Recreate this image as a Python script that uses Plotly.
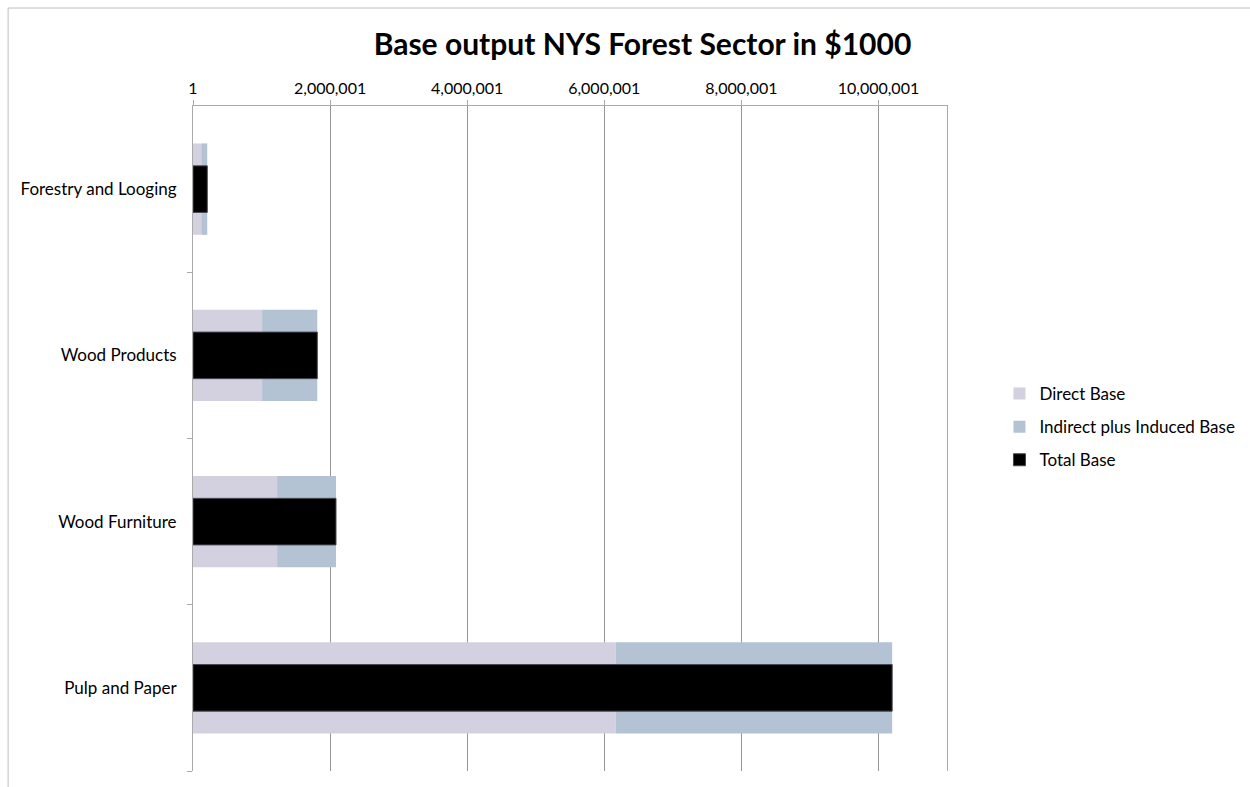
import plotly.graph_objects as go

# Forest sector output, thousands of dollars
sectors = ["Forestry and Looging", "Wood Products", "Wood Furniture", "Pulp and Paper"]
direct_base = [121000, 1008000, 1227000, 6165000]
indirect_induced_base = [87000, 805000, 859000, 4035000]
total_base = [d + i for d, i in zip(direct_base, indirect_induced_base)]

x_tick_vals = [1, 2000001, 4000001, 6000001, 8000001, 10000001]
x_tick_text = ["1", "2,000,001", "4,000,001", "6,000,001", "8,000,001", "10,000,001"]

FONT = "Lato, Liberation Sans, sans-serif"
DIRECT_COLOR = "rgb(211,209,224)"
INDIRECT_COLOR = "rgb(179,195,211)"

fig = go.Figure()

fig.add_trace(go.Bar(
    name="Direct Base", y=sectors, x=direct_base, orientation="h",
    width=0.55, marker=dict(color=DIRECT_COLOR, line=dict(width=0)),
    legendgroup="a",
))
fig.add_trace(go.Bar(
    name="Indirect plus Induced Base", y=sectors, x=indirect_induced_base,
    base=direct_base, orientation="h",
    width=0.55, marker=dict(color=INDIRECT_COLOR, line=dict(width=0)),
    legendgroup="b",
))
fig.add_trace(go.Bar(
    name="Total Base", y=sectors, x=total_base, orientation="h",
    width=0.28, marker=dict(color="black", line=dict(color="rgb(70,70,80)", width=1)),
    legendgroup="c",
))

# invisible companion axis used only for the category boundary tick marks
fig.add_trace(go.Scatter(x=[None], y=[None], yaxis="y2", showlegend=False, hoverinfo="skip"))

fig.update_layout(
    width=1250, height=787,
    barmode="overlay",
    plot_bgcolor="white", paper_bgcolor="white",
    margin=dict(l=193, r=303, t=106, b=16, autoexpand=False),
    font=dict(family=FONT, size=14, color="black"),
    title=dict(
        text="<b>Base output NYS Forest Sector in $1000</b>",
        font=dict(family=FONT, size=30, color="black"),
        x=0.514, xref="container", xanchor="center",
        y=1 - 44 / 787, yref="container", yanchor="middle",
    ),
    xaxis=dict(
        side="top", range=[1, 11000001],
        tickvals=x_tick_vals, ticktext=x_tick_text,
        tickfont=dict(size=16, family=FONT),
        showgrid=True, gridcolor="rgb(150,150,150)", gridwidth=1,
        showline=True, linecolor="rgb(170,170,170)", linewidth=1,
        ticks="outside", ticklen=5, tickcolor="rgb(170,170,170)",
        zeroline=False, fixedrange=True, automargin=False,
    ),
    yaxis=dict(
        categoryorder="array", categoryarray=sectors,
        autorange="reversed",
        showline=True, mirror=True, linecolor="rgb(170,170,170)", linewidth=1,
        ticks="", tickfont=dict(size=17, family=FONT),
        ticklabelstandoff=12,
        showgrid=False, zeroline=False, automargin=False,
    ),
    yaxis2=dict(
        overlaying="y", side="left", range=[3.5, -0.5],
        tickvals=[0.5, 1.5, 2.5, 3.5], showticklabels=False,
        ticks="outside", ticklen=5, tickcolor="rgb(170,170,170)",
        showgrid=False, zeroline=False, showline=False, automargin=False,
    ),
    legend=dict(
        x=(1000 - 193) / 754.5, xanchor="left",
        y=(771 - 427) / 665, yanchor="middle",
        font=dict(family=FONT, size=17),
        traceorder="grouped", tracegroupgap=8,
        itemwidth=30,
    ),
    shapes=[dict(
        type="rect", xref="paper", yref="paper",
        x0=(8 - 193) / 754.5, x1=(1252 - 193) / 754.5,
        y0=(771 - 790) / 665, y1=(771 - 8) / 665,
        line=dict(color="rgb(190,190,190)", width=1),
        fillcolor="rgba(0,0,0,0)", layer="below",
    )],
)

fig.write_html("out.html")
